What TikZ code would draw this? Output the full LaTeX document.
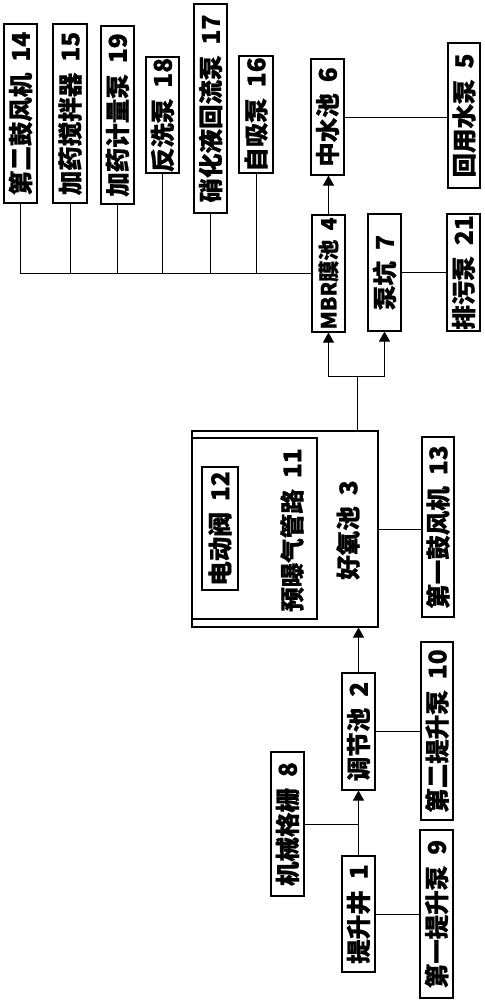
\documentclass[tikz,border=0pt]{standalone}
\usepackage{fontspec}
\newfontfamily\cjk{Noto Sans CJK SC}[BoldFeatures={FakeBold=0.8}]
\usetikzlibrary{arrows.meta}
\newcommand{\lbl}[2]{\rotatebox{90}{#1\hspace{0.45em}#2}}
\begin{document}
\begin{tikzpicture}[x=1pt,y=-1pt,
  bx/.style={draw,line width=1.1pt,inner sep=0pt,font=\cjk\bfseries\fontsize{24.5}{24.5}\selectfont},
  plain/.style={inner sep=0pt,font=\cjk\bfseries\fontsize{24.5}{24.5}\selectfont},
  ln/.style={line width=0.9pt},
  arr/.style={line width=0.9pt,-{Triangle[width=11pt,length=10pt]}}]
\useasboundingbox (0,0) rectangle (484,1000);
% top row of equipment
\node[bx,minimum width=33pt,minimum height=179pt] (n14) at (20.5,113.5) {\lbl{第二鼓风机}{14}};
\node[bx,minimum width=34pt,minimum height=179pt] (n15) at (70,113.5) {\lbl{加药搅拌器}{15}};
\node[bx,minimum width=33pt,minimum height=178pt] (n19) at (117.5,115) {\lbl{加药计量泵}{19}};
\node[bx,minimum width=33pt,minimum height=116pt] (n18) at (162.5,115) {\lbl{反洗泵}{18}};
\node[bx,minimum width=33pt,minimum height=209pt] (n17) at (210.5,108.5) {\lbl{硝化液回流泵}{17}};
\node[bx,minimum width=34pt,minimum height=117pt] (n16) at (256,114.5) {\lbl{自吸泵}{16}};
\node[bx,minimum width=33pt,minimum height=116pt] (zs) at (327.5,117) {\lbl{中水池}{6}};
\node[bx,minimum width=32pt,minimum height=145pt] (hy) at (464,115.5) {\lbl{回用水泵}{5}};
\node[bx,minimum width=33pt,minimum height=117pt,font=\cjk\bfseries\fontsize{21}{21}\selectfont] (mbr) at (328.5,273.5) {\lbl{MBR膜池}{4}};
\node[bx,minimum width=33pt,minimum height=117pt] (bk) at (384.5,272.5) {\lbl{泵坑}{7}};
\node[bx,minimum width=33pt,minimum height=117pt] (pw) at (463.5,272.5) {\lbl{排污泵}{21}};
% aerobic tank
\node[draw,line width=1.1pt,inner sep=0pt,minimum width=186pt,minimum height=196pt] (aer) at (285,529) {};
\node[draw,line width=1.1pt,inner sep=0pt,minimum width=125pt,minimum height=181pt] (pre) at (254.5,528.5) {};
\node[bx,minimum width=36pt,minimum height=123pt] (valve) at (220,528.5) {\lbl{电动阀}{12}};
\node[plain] (pretxt) at (292,530) {\lbl{预曝气管路}{11}};
\node[plain] (aertxt) at (348,530) {\lbl{好氧池}{3}};
\node[bx,minimum width=32pt,minimum height=180pt] (f13) at (438,527) {\lbl{第一鼓风机}{13}};
% lower part
\node[bx,minimum width=33pt,minimum height=117pt] (tj) at (358.5,731.5) {\lbl{调节池}{2}};
\node[bx,minimum width=32pt,minimum height=178pt] (f10) at (437,731) {\lbl{第二提升泵}{10}};
\node[bx,minimum width=33pt,minimum height=144pt] (gs) at (287.5,824) {\lbl{机械格栅}{8}};
\node[bx,minimum width=33pt,minimum height=116pt] (tsj) at (358.5,914) {\lbl{提升井}{1}};
\node[bx,minimum width=33pt,minimum height=168pt] (f9) at (436.5,914) {\lbl{第一提升泵}{9}};
% connectors
\foreach \n in {n14,n15,n19,n18,n17,n16} \draw[ln] (\n.south) |- (mbr.west);
\draw[arr] (mbr.north) -- (mbr.north |- zs.south);
\draw[ln] (zs.east) -- (zs.east -| hy.west);
\draw[ln] (bk.east) -- (pw.west);
\coordinate (split) at (357,376);
\draw[ln] (split |- aer.north) -- (split);
\draw[arr] (split) -| (mbr.south);
\draw[arr] (split) -| (bk.south);
\draw[ln] (aer.east) -- (aer.east -| f13.west);
\draw[arr] (tj.north) -- (tj.north |- aer.south);
\draw[ln] (tj.east) -- (tj.east -| f10.west);
\draw[arr] (tsj.north) -- (tj.south);
\draw[ln] (gs.east) -- (gs.east -| tsj.north);
\draw[ln] (tsj.east) -- (tsj.east -| f9.west);
\end{tikzpicture}
\end{document}
